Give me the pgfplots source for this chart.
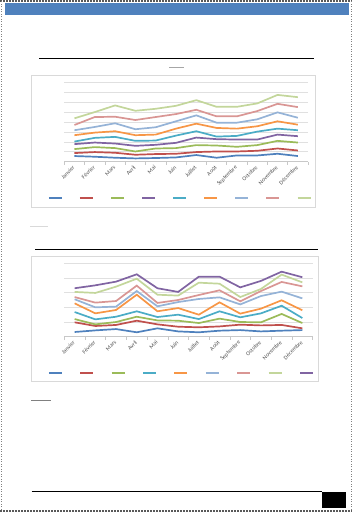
\documentclass[border=0pt]{standalone}
\usepackage{fontspec}
\setmainfont{Carlito}
\usepackage{pgfplots}
\pgfplotsset{compat=1.18}
\usepackage{pgfplotstable}
\definecolor{s1}{HTML}{4F81BD}
\definecolor{s2}{HTML}{C0504D}
\definecolor{s3}{HTML}{9BBB59}
\definecolor{s4}{HTML}{8064A2}
\definecolor{s5}{HTML}{4BACC6}
\definecolor{s6}{HTML}{F79646}
\definecolor{s7}{HTML}{95B3D7}
\definecolor{s8}{HTML}{D99694}
\definecolor{s9}{HTML}{C3D69B}
\definecolor{gridc}{HTML}{E0E0E0}
\definecolor{axc}{HTML}{C8C8C8}
\definecolor{framec}{HTML}{D9D9D9}
\definecolor{labc}{HTML}{505050}

\pgfplotstableread{
m a b c d e f g h i
0 5.7 8.7 12.7 17.7 20.3 26.7 31.7 37.0 43.7
1 5.0 9.7 14.7 19.3 24.0 29.3 35.0 45.0 50.0
2 4.0 9.0 13.7 18.3 25.0 30.7 38.7 45.3 56.7
3 3.3 7.0 10.3 16.0 21.0 26.7 32.7 42.0 51.3
4 3.7 7.7 13.3 17.0 21.3 27.3 34.7 45.0 53.3
5 4.3 8.0 13.7 19.0 26.3 33.3 40.7 48.0 56.3
6 6.7 9.7 16.7 24.3 30.7 38.3 46.7 52.3 62.0
7 4.0 10.3 16.3 22.7 25.3 34.0 39.3 45.7 55.3
8 6.3 10.3 15.0 22.3 26.0 33.3 39.3 45.7 55.3
9 6.3 11.0 16.7 22.3 30.3 35.7 42.7 51.0 58.7
10 8.0 13.3 21.0 27.3 33.3 40.7 49.7 58.3 67.3
11 5.7 11.3 19.3 25.7 31.7 37.3 44.3 55.0 65.0
}\dataA

\pgfplotstableread{
m a b c d e f g h i
0 3.2 9.8 12.0 16.8 22.7 25.5 27.0 30.5 33.0
1 4.3 7.3 8.4 11.8 15.9 20.0 23.2 29.8 35.0
2 5.2 8.0 10.0 13.6 18.2 20.5 24.3 34.1 37.5
3 3.0 10.9 13.6 17.3 28.6 31.1 34.8 39.5 42.5
4 5.7 8.4 11.1 13.4 17.3 20.7 23.0 28.6 33.0
5 3.6 6.8 10.9 15.0 19.5 23.6 25.0 28.0 30.5
6 3.0 6.4 9.3 12.0 15.0 25.7 28.4 36.8 40.9
7 4.1 7.0 12.3 17.3 23.4 26.8 31.6 36.1 40.9
8 4.5 8.2 10.0 13.2 15.7 22.0 24.1 27.0 33.6
9 3.6 7.7 9.8 15.9 19.1 27.7 31.1 32.5 38.0
10 4.1 8.0 15.5 21.1 24.8 30.7 37.3 42.3 44.3
11 4.5 5.7 9.3 12.7 18.0 26.1 34.3 37.0 40.5
}\dataB

\pgfplotsset{
  xlchart/.style={
    scale only axis,
    xmin=-0.5, xmax=11.5, ymin=0,
    axis x line*=bottom, axis y line*=left,
    y axis line style={draw=none},
    x axis line style={axc, line width=0.6bp},
    xtick={0,...,11},
    xticklabels={Janvier,Février,Mars,Avril,Mai,Juin,Juillet,Août,Septembre,Octobre,Novembre,Décembre},
    major x tick style={draw=none},
    minor xtick={-0.5,0.5,...,11.5},
    minor x tick style={axc, line width=0.6bp},
    minor tick length=3bp,
    tick align=outside,
    ytick style={draw=none}, yticklabels={},
    ymajorgrids, grid style={gridc, line width=0.6bp},
    xticklabel style={rotate=45, anchor=east, font=\fontsize{5.8}{7}\selectfont, text=labc, inner sep=0.8bp},
    every axis plot/.append style={line width=1.7bp, mark=none},
    legend image code/.code={\draw[##1] (0bp,0bp) -- (13bp,0bp);},
    legend columns=9,
  }
}

\begin{document}
\begin{tikzpicture}
\path[use as bounding box] (0bp,0bp) rectangle (352bp,512bp);
% page border (scan)
\draw[gray!70!black, line width=1.6bp, dash pattern=on 2bp off 1bp] (0bp,511bp) -- (352bp,511bp);
\draw[gray, line width=0.9bp, dash pattern=on 1bp off 1.5bp] (1bp,0bp) -- (1bp,511bp);
\draw[gray, line width=0.9bp, dash pattern=on 1bp off 1.5bp] (351bp,0bp) -- (351bp,511bp);
\draw[gray!70!black, line width=1.2bp, dash pattern=on 2bp off 1bp] (0bp,1bp) -- (352bp,1bp);
% header bar
\fill[s1] (5bp,497bp) rectangle (349bp,508.7bp);
% chart 1 decorations
\draw[black, line width=0.9bp] (39bp,453.7bp) -- (314bp,453.7bp);
\draw[gray!70, line width=0.9bp] (169.3bp,444.7bp) -- (184bp,444.7bp);
\draw[framec, line width=0.6bp] (31.7bp,304.7bp) rectangle (315.7bp,436.3bp);
% chart 2 decorations
\draw[gray!30, line width=0.9bp] (30bp,285.3bp) -- (48bp,285.3bp);
\draw[black, line width=0.9bp] (35bp,262.7bp) -- (317.7bp,262.7bp);
\draw[framec, line width=0.6bp] (31.7bp,130.3bp) rectangle (318bp,255.3bp);
% bottom
\draw[gray, line width=0.9bp] (31bp,111.3bp) -- (51bp,111.3bp);
\draw[black, line width=0.9bp] (31.7bp,21bp) -- (321.7bp,21bp);
\fill[black] (322bp,4.3bp) rectangle (346bp,20.3bp);

\begin{axis}[xlchart,
  at={(64.3bp,350.3bp)}, anchor=south west,
  width=243.7bp, height=79.4bp,
  ymax=80, ytick={0,10,...,80},
  legend style={draw=none, fill=none, inner sep=0pt, outer sep=0pt,
    nodes={inner sep=0pt, outer sep=0pt}, column sep=0pt,
    /tikz/every even column/.append style={column sep=15.4bp},
    at={(-0.067,-0.453)}, anchor=west},
]
\addplot[s1] table[x=m,y=a] {\dataA};
\addplot[s2] table[x=m,y=b] {\dataA};
\addplot[s3] table[x=m,y=c] {\dataA};
\addplot[s4] table[x=m,y=d] {\dataA};
\addplot[s5] table[x=m,y=e] {\dataA};
\addplot[s6] table[x=m,y=f] {\dataA};
\addplot[s7] table[x=m,y=g] {\dataA};
\addplot[s8] table[x=m,y=h] {\dataA};
\addplot[s9] table[x=m,y=i] {\dataA};
\legend{\mbox{},\mbox{},\mbox{},\mbox{},\mbox{},\mbox{},\mbox{},\mbox{},\mbox{}}
\end{axis}

\begin{axis}[xlchart,
  at={(64.3bp,175.3bp)}, anchor=south west,
  width=248.4bp, height=73.4bp,
  ymax=50, ytick={0,10,...,50},
  legend style={draw=none, fill=none, inner sep=0pt, outer sep=0pt,
    nodes={inner sep=0pt, outer sep=0pt}, column sep=0pt,
    /tikz/every even column/.append style={column sep=15.7bp},
    at={(-0.0656,-0.490)}, anchor=west},
]
\addplot[s1] table[x=m,y=a] {\dataB};
\addplot[s2] table[x=m,y=b] {\dataB};
\addplot[s3] table[x=m,y=c] {\dataB};
\addplot[s5] table[x=m,y=d] {\dataB};
\addplot[s6] table[x=m,y=e] {\dataB};
\addplot[s7] table[x=m,y=f] {\dataB};
\addplot[s8] table[x=m,y=g] {\dataB};
\addplot[s9] table[x=m,y=h] {\dataB};
\addplot[s4] table[x=m,y=i] {\dataB};
\legend{\mbox{},\mbox{},\mbox{},\mbox{},\mbox{},\mbox{},\mbox{},\mbox{},\mbox{}}
\end{axis}
\end{tikzpicture}
\end{document}
